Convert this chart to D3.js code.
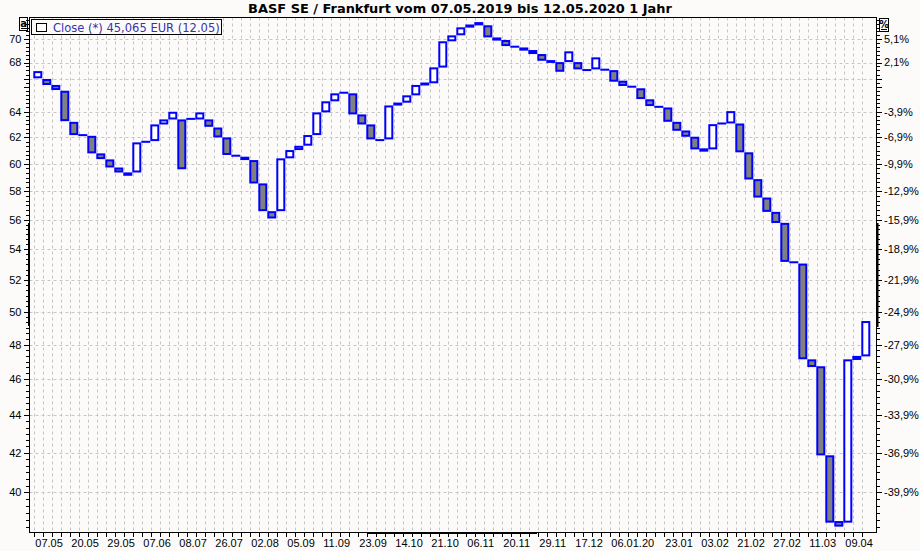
<!DOCTYPE html>
<html><head><meta charset="utf-8">
<script src="https://cdn.jsdelivr.net/npm/d3@7"></script>
<style>html,body{margin:0;padding:0;background:#fcfbf9;} svg{display:block;}</style>
</head><body><svg id="c" width="920" height="551"></svg>
<script>
// ---- data ----
const opens  = [66.77,66.55,66.06,65.59,63.12,62.17,62.04,60.71,60.26,59.66,
                59.30,59.44,61.66,61.79,63.07,63.46,63.31,63.43,63.46,63.31,
                62.68,61.92,60.61,60.46,60.21,58.50,56.53,56.67,60.49,61.11,
                61.44,62.25,64.02,64.90,65.51,65.38,63.70,62.92,61.79,61.92,
                64.64,64.79,65.38,66.26,66.36,67.66,69.89,70.41,71.08,71.28,
                71.11,70.05,69.83,69.34,69.19,68.97,68.63,68.12,67.95,68.12,
                67.95,67.37,67.51,67.40,67.28,66.41,66.00,65.79,64.90,64.38,
                64.25,63.12,62.45,61.97,61.09,61.16,63.07,63.15,62.99,60.79,
                58.81,57.49,56.48,55.72,53.14,52.99,47.08,46.68,41.82,38.56,
                38.58,47.28,47.37];
const closes = [67.20,66.22,65.81,63.33,62.25,62.17,60.86,60.43,59.81,59.44,
                59.20,61.54,61.66,62.92,63.31,63.91,59.68,63.43,63.86,62.89,
                62.07,60.74,60.61,60.36,58.64,56.67,56.16,60.34,60.96,61.28,
                62.10,63.86,64.74,65.38,65.51,63.86,63.07,61.92,61.79,64.41,
                64.56,65.22,66.06,66.18,67.51,69.72,70.23,70.93,71.18,71.39,
                70.23,69.95,69.48,69.34,69.09,68.80,68.23,68.05,67.31,68.86,
                67.51,67.37,68.35,67.40,66.49,66.14,66.00,65.08,64.52,64.38,
                63.28,62.58,62.12,61.16,60.99,62.94,63.07,63.96,60.94,58.93,
                57.63,56.62,55.85,53.23,53.14,47.20,46.75,41.92,38.58,38.39,
                47.08,47.16,49.36];
const dateLabels = ["07.05","20.05","29.05","07.06","08.07","26.07","02.08","05.09",
                    "11.09","23.09","14.10","21.10","06.11","20.11","29.11","17.12",
                    "06.01.20","23.01","03.02","21.02","27.02","11.03","09.04"];
const dateIndex  = [0,4,8,12,16,20,24,28,32,36,40,44,48,52,56,60,64,70,74,78,82,86,90];
const priceTicks = [70,68,64,62,60,58,56,54,52,50,48,46,44,42,40];
const pctLabels  = ["5,1%","2,1%","-3,9%","-6,9%","-9,9%","-12,9%","-15,9%","-18,9%",
                    "-21,9%","-24,9%","-27,9%","-30,9%","-33,9%","-36,9%","-39,9%"];
const baseValue  = 66.6;
const titleText  = "BASF SE / Frankfurt vom 07.05.2019 bis 12.05.2020 1 Jahr";
const legendText = "Close (*) 45,065 EUR (12.05)";

// ---- layout ----
const L = 29.5, R = 876.5, T = 17.5, B = 532.5;
const svg = d3.select('#c');
const n = opens.length;
const x = d3.scaleLinear().domain([0, n]).range([34.3, 34.3 + 9 * n]);
const y = d3.scaleLog().domain([38.09, 71.93]).range([532, 17]);

function fit(sel, target) {
  const w = sel.node().getComputedTextLength();
  const fs = parseFloat(sel.attr('font-size'));
  sel.attr('font-size', fs * target / w);
}

// grid
const grid = svg.append('g').attr('stroke', '#c6c6c6').attr('stroke-dasharray', '3,3').attr('stroke-width', 1);
grid.selectAll('line.h').data(priceTicks.concat([baseValue])).join('line')
  .attr('x1', L).attr('x2', R)
  .attr('y1', d => Math.round(y(d)) + 0.5).attr('y2', d => Math.round(y(d)) + 0.5);
grid.selectAll('line.v').data(d3.range(n)).join('line')
  .attr('x1', d => Math.round(x(d)) + 0.5).attr('x2', d => Math.round(x(d)) + 0.5)
  .attr('y1', T).attr('y2', B);

// bars
svg.append('g').selectAll('rect').data(d3.range(n)).join('rect')
  .attr('x', i => x(i))
  .attr('width', i => x(i + 1) - x(i) - 2)
  .attr('y', i => y(Math.max(opens[i], closes[i])))
  .attr('height', i => Math.max(0.01, y(Math.min(opens[i], closes[i])) - y(Math.max(opens[i], closes[i]))))
  .attr('fill', i => closes[i] >= opens[i] ? '#ffffff' : '#808080')
  .attr('stroke', '#0000ff').attr('stroke-width', 2);

// frame
const frame = svg.append('g').attr('stroke', '#000').attr('fill', 'none');
frame.append('rect').attr('x', L).attr('y', T).attr('width', R - L).attr('height', B - T).attr('stroke-width', 1);
frame.append('line').attr('x1', 29).attr('x2', 29).attr('y1', 223).attr('y2', 326).attr('stroke-width', 2);
frame.append('line').attr('x1', 877.5).attr('x2', 877.5).attr('y1', 223).attr('y2', 327).attr('stroke-width', 2);
frame.append('line').attr('x1', 367).attr('x2', 537).attr('y1', 533).attr('y2', 533).attr('stroke-width', 2);

// minor ticks
const minor = d3.range(38 + 1/3, 71.9, 1/3).filter(v => Math.abs(v - Math.round(v / 2) * 2) > 0.05);
const ticks = svg.append('g').attr('stroke', '#000').attr('stroke-width', 1);
ticks.selectAll('line.lm').data(minor).join('line')
  .attr('x1', 26).attr('x2', L).attr('y1', d => Math.round(y(d)) + 0.5).attr('y2', d => Math.round(y(d)) + 0.5);
ticks.selectAll('line.rm').data(minor).join('line')
  .attr('x1', R).attr('x2', 880).attr('y1', d => Math.round(y(d)) + 0.5).attr('y2', d => Math.round(y(d)) + 0.5);
const majors = priceTicks.concat([baseValue, 66]);
ticks.selectAll('line.lM').data(majors).join('line')
  .attr('x1', 24).attr('x2', L).attr('y1', d => Math.round(y(d)) + 0.5).attr('y2', d => Math.round(y(d)) + 0.5);
ticks.selectAll('line.rM').data(majors).join('line')
  .attr('x1', R).attr('x2', 882).attr('y1', d => Math.round(y(d)) + 0.5).attr('y2', d => Math.round(y(d)) + 0.5);
ticks.selectAll('line.b').data(d3.range(n)).join('line')
  .attr('x1', d => Math.round(x(d)) + 0.5).attr('x2', d => Math.round(x(d)) + 0.5)
  .attr('y1', B).attr('y2', 537);

// tick labels
const lab = svg.append('g').attr('font-family', '"Liberation Sans", Arial, sans-serif').attr('font-size', 11).attr('fill', '#000');
lab.selectAll('text.l').data(priceTicks).join('text')
  .attr('x', 21.5).attr('y', d => y(d)).attr('dy', '0.36em').attr('text-anchor', 'end').text(d => d);
lab.selectAll('text.r').data(priceTicks).join('text')
  .attr('x', 884).attr('y', d => y(d)).attr('dy', '0.36em').text((d, i) => pctLabels[i]);
lab.selectAll('text.b').data(dateIndex).join('text')
  .attr('x', d => x(d) + 1).attr('y', 547).text((d, i) => dateLabels[i]);

// title
const t = svg.append('text').attr('x', 460).attr('y', 12.7).attr('text-anchor', 'middle')
  .attr('font-family', '"DejaVu Sans", Verdana, sans-serif').attr('font-weight', 'bold')
  .attr('font-size', 12).attr('fill', '#000').text(titleText);
fit(t, 424);

// legend
svg.append('rect').attr('x', 31.5).attr('y', 19.5).attr('width', 190).attr('height', 15)
  .attr('fill', '#fcfbf9').attr('stroke', '#000');
svg.append('rect').attr('x', 36.5).attr('y', 23.5).attr('width', 10).attr('height', 8)
  .attr('fill', '#fff').attr('stroke', '#000');
const lt = svg.append('text').attr('x', 53).attr('y', 31.5)
  .attr('font-family', '"DejaVu Sans", Verdana, sans-serif').attr('font-size', 11.5)
  .attr('fill', '#3a30b0').text(legendText);
fit(lt, 167);

// corner boxes "a" and "%"
function cornerBox(x0, y0, w, h, s) {
  svg.append('rect').attr('x', x0).attr('y', y0).attr('width', w).attr('height', h)
    .attr('fill', 'none').attr('stroke', '#000');
  svg.append('text').attr('x', x0 + w / 2).attr('y', y0 + h - 4).attr('text-anchor', 'middle')
    .attr('font-family', '"DejaVu Sans", Verdana, sans-serif').attr('font-weight', 'bold')
    .attr('font-size', 10).attr('fill', '#000').text(s);
  svg.append('line').attr('x1', x0 + 1.5).attr('x2', x0 + w - 1.5)
    .attr('y1', y0 + h - 2).attr('y2', y0 + h - 2).attr('stroke', '#000');
}
cornerBox(19.5, 17.5, 8, 13, 'a');
cornerBox(879.5, 18.5, 9, 13, '%');
</script></body></html>
